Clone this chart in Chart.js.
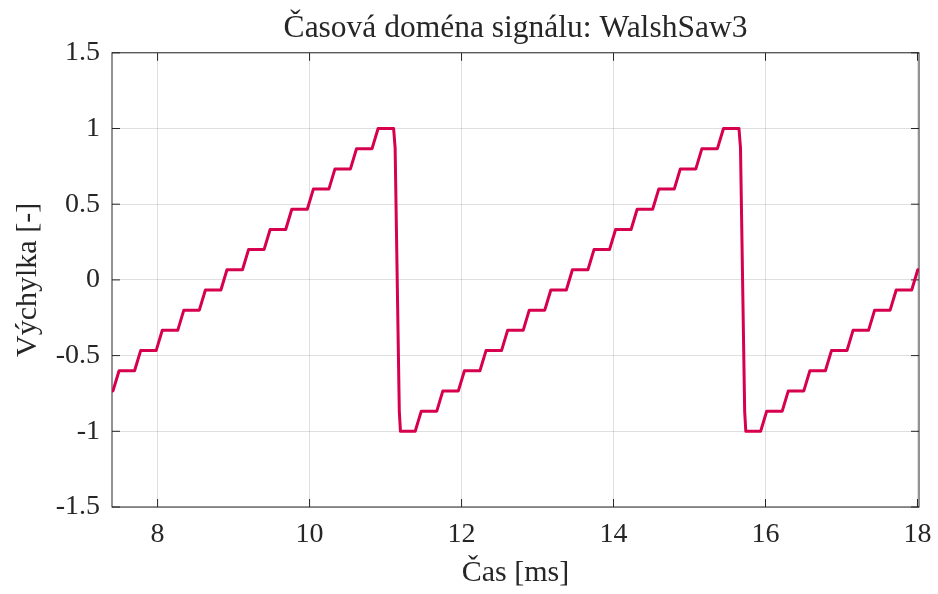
<!DOCTYPE html>
<html lang="cs">
<head>
<meta charset="UTF-8">
<title>Časová doména signálu: WalshSaw3</title>
<script src="https://cdn.jsdelivr.net/npm/chart.js"></script>
<style>
  body { margin: 0; background: #fff; }
  canvas { display: block; }
</style>
</head>
<body>
<canvas id="signalChart" width="938" height="594"></canvas>
<script>
  // corners of the staircase (time in ms, amplitude)
  const timeMs = [
    7.300, 7.413, 7.493, 7.697, 7.777, 7.981, 8.061, 8.265, 8.345, 8.549, 8.629,
    8.833, 8.913, 9.117, 9.197, 9.401, 9.481, 9.686, 9.766, 9.970, 10.050,
    10.254, 10.334, 10.538, 10.618, 10.822, 10.902,
    11.106, 11.126, 11.181, 11.196,
    11.390, 11.470, 11.674, 11.754, 11.958, 12.038, 12.242, 12.322, 12.526, 12.606,
    12.811, 12.891, 13.095, 13.175, 13.379, 13.459, 13.663, 13.743, 13.947, 14.027,
    14.231, 14.311, 14.515, 14.595, 14.799, 14.879, 15.083, 15.163, 15.367, 15.447,
    15.651, 15.671, 15.726, 15.741,
    15.936, 16.016, 16.220, 16.300, 16.504, 16.584, 16.788, 16.868, 17.072, 17.152,
    17.356, 17.436, 17.640, 17.720, 17.924, 18.004, 18.100
  ];
  const amplitude = [
    -0.733, -0.733, -0.6, -0.6, -0.467, -0.467, -0.333, -0.333, -0.2, -0.2, -0.067,
    -0.067, 0.067, 0.067, 0.2, 0.2, 0.333, 0.333, 0.467, 0.467, 0.6,
    0.6, 0.733, 0.733, 0.867, 0.867, 1,
    1, 0.87, -0.87, -1,
    -1, -0.867, -0.867, -0.733, -0.733, -0.6, -0.6, -0.467, -0.467, -0.333,
    -0.333, -0.2, -0.2, -0.067, -0.067, 0.067, 0.067, 0.2, 0.2, 0.333,
    0.333, 0.467, 0.467, 0.6, 0.6, 0.733, 0.733, 0.867, 0.867, 1,
    1, 0.87, -0.87, -1,
    -1, -0.867, -0.867, -0.733, -0.733, -0.6, -0.6, -0.467, -0.467, -0.333,
    -0.333, -0.2, -0.2, -0.067, -0.067, 0.067, 0.067
  ];
  const xRange = [7.4, 18.02];
  const yRange = [-1.5, 1.5];
  const xTicks = [8, 10, 12, 14, 16, 18];
  const yTicks = [-1.5, -1, -0.5, 0, 0.5, 1, 1.5];

  const axisColor = '#262626';
  const gridColor = 'rgba(38,38,38,0.15)';
  const serif = "'Liberation Serif', 'Times New Roman', serif";

  const points = timeMs.map((t, i) => ({ x: t, y: amplitude[i] }));

  // box around the plot + inward tick marks (matlab style)
  const boxPlugin = {
    id: 'box',
    beforeDatasetsDraw(chart) {
      const { ctx, chartArea: a, scales: { x, y } } = chart;
      const len = 8;
      ctx.save();
      ctx.strokeStyle = axisColor;
      ctx.lineWidth = 1;
      ctx.beginPath();
      xTicks.forEach(v => {
        const px = x.getPixelForValue(v);
        ctx.moveTo(px, a.bottom); ctx.lineTo(px, a.bottom - len);
        ctx.moveTo(px, a.top); ctx.lineTo(px, a.top + len);
      });
      yTicks.forEach(v => {
        const py = y.getPixelForValue(v);
        ctx.moveTo(a.left, py); ctx.lineTo(a.left + len, py);
        ctx.moveTo(a.right, py); ctx.lineTo(a.right - len, py);
      });
      ctx.stroke();
      ctx.strokeRect(a.left, a.top, a.right - a.left, a.bottom - a.top);
      ctx.restore();
    }
  };

  new Chart(document.getElementById('signalChart'), {
    type: 'line',
    data: {
      datasets: [{
        data: points,
        borderColor: '#D6004E',
        borderWidth: 3,
        borderJoinStyle: 'round',
        borderCapStyle: 'round',
        pointRadius: 0,
        tension: 0,
        clip: 0
      }]
    },
    options: {
      responsive: false,
      animation: false,
      layout: { padding: { left: 0, right: 19, top: 0, bottom: 0 } },
      plugins: {
        legend: { display: false },
        tooltip: { enabled: false },
        title: {
          display: true,
          text: 'Časová doména signálu: WalshSaw3',
          color: axisColor,
          fullSize: false,
          font: { family: serif, size: 31.5, weight: 'normal' },
          padding: { top: 10, bottom: 5 }
        }
      },
      scales: {
        x: {
          type: 'linear',
          min: xRange[0],
          max: xRange[1],
          afterBuildTicks: s => { s.ticks = xTicks.map(v => ({ value: v })); },
          afterFit: s => { s.height = 87; s.paddingLeft = 0; s.paddingRight = 0; },
          grid: { color: gridColor, drawTicks: false },
          border: { display: false },
          ticks: {
            color: axisColor,
            font: { family: serif, size: 28 },
            padding: 11,
            maxRotation: 0,
            autoSkip: false,
            callback: v => String(v)
          },
          title: {
            display: true,
            text: 'Čas [ms]',
            color: axisColor,
            font: { family: serif, size: 30 },
            padding: { top: 0, bottom: 3 }
          }
        },
        y: {
          type: 'linear',
          min: yRange[0],
          max: yRange[1],
          afterBuildTicks: s => { s.ticks = yTicks.map(v => ({ value: v })); },
          afterFit: s => { s.width = 112; s.paddingTop = 0; s.paddingBottom = 0; },
          grid: { color: gridColor, drawTicks: false },
          border: { display: false },
          ticks: {
            color: axisColor,
            font: { family: serif, size: 28 },
            padding: 12,
            autoSkip: false,
            callback: v => String(v)
          },
          title: {
            display: true,
            text: 'Výchylka [-]',
            color: axisColor,
            font: { family: serif, size: 30 },
            padding: { top: 10, bottom: 0 }
          }
        }
      }
    },
    plugins: [boxPlugin]
  });
</script>
</body>
</html>
